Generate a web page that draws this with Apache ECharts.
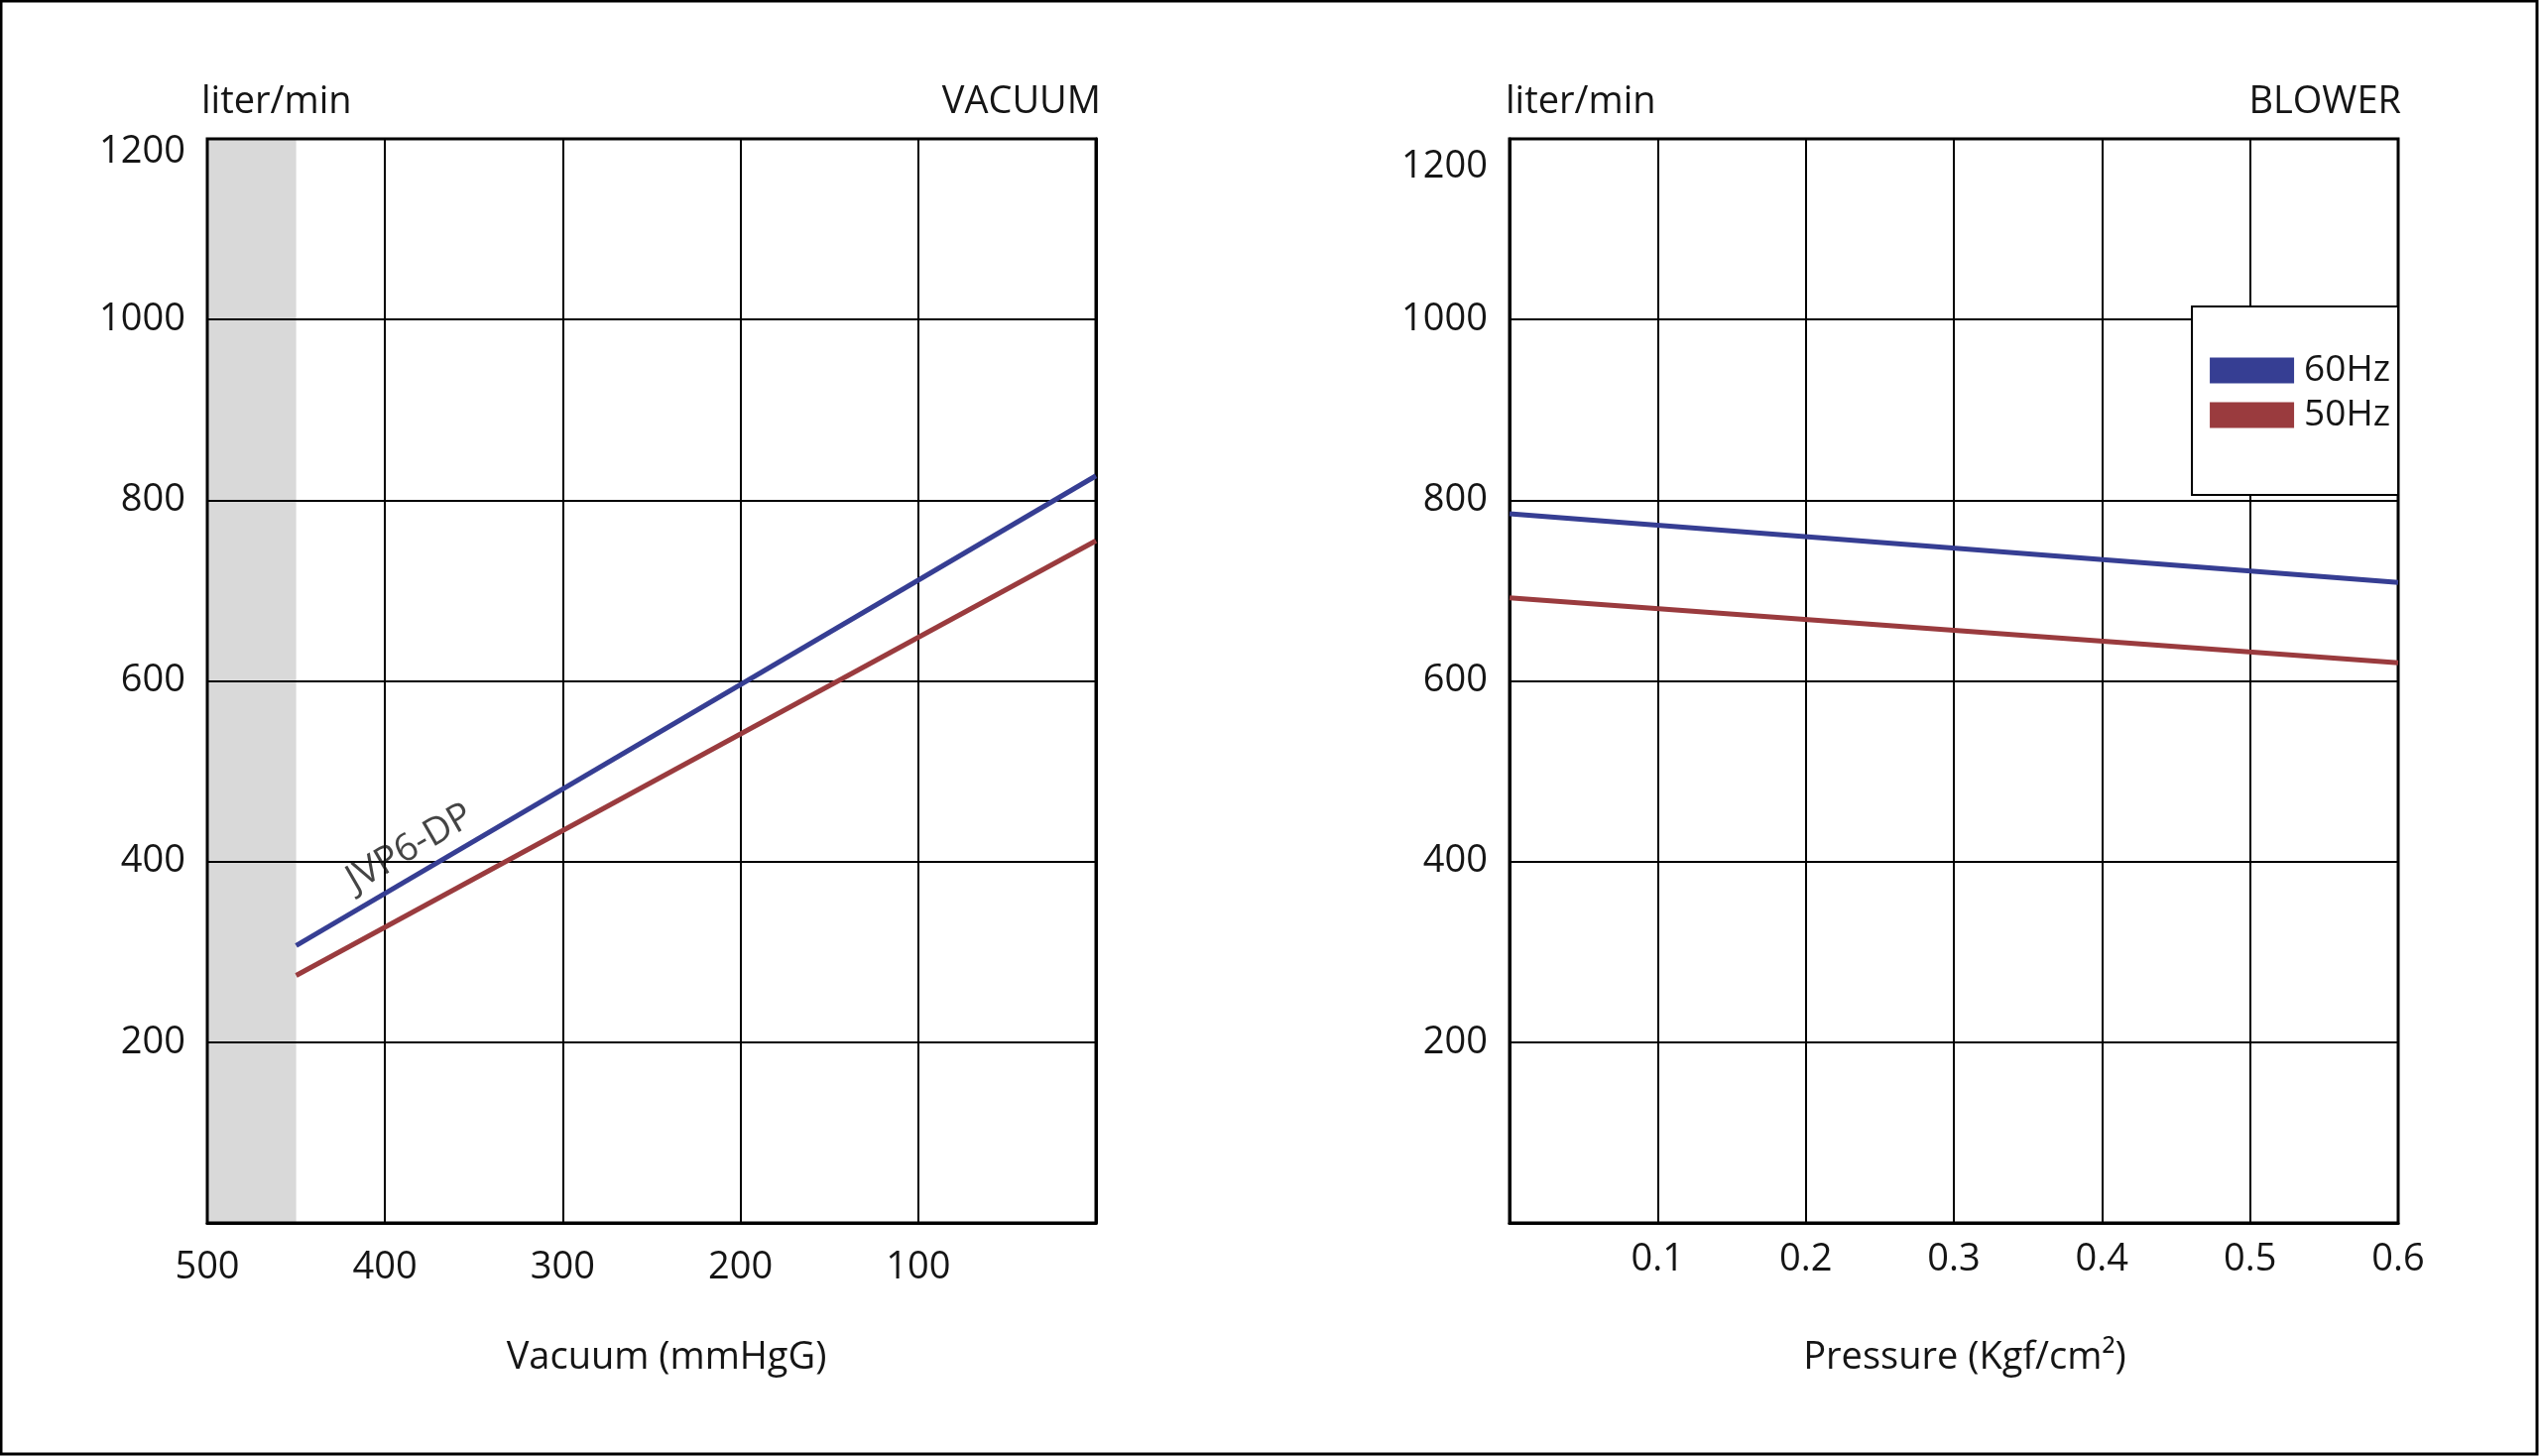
<!DOCTYPE html>
<html>
<head>
<meta charset="utf-8">
<script src="https://cdn.jsdelivr.net/npm/echarts@6/dist/echarts.min.js"></script>
<style>
  html, body { margin: 0; padding: 0; background: #fff; }
  #main { width: 2560px; height: 1468px; }
</style>
</head>
<body>
<div id="main"></div>
<script>
// values
const seriesNames = ["60Hz", "50Hz"];
const vacuum60 = [[450, 307], [0, 827]];
const vacuum50 = [[450, 274], [0, 755]];
const blower60 = [[0, 785], [0.6, 709]];
const blower50 = [[0, 692], [0.6, 620]];
const shadedVacuum = [500, 450];
const modelName = "JVP6-DP";
const modelLabelAt = [386, 415];

const colors = { "60Hz": "#363e93", "50Hz": "#9a3b3e" };
const font = "Open Sans";
const ink = "#151515";

const chart = echarts.init(document.getElementById("main"));

const labelStyle = { color: ink, fontFamily: font, fontSize: 38 };

// the top tick label sits a little lower than its line in the original
const yAxisFor = (idx, topDrop) => ({
  gridIndex: idx,
  type: "value",
  min: 0,
  max: 1200,
  interval: 200,
  z: 2,
  axisLine: { show: true, lineStyle: { color: "#000", width: 3 } },
  axisTick: { show: false },
  splitLine: { lineStyle: { color: "#000", width: 2 } },
  axisLabel: Object.assign({}, labelStyle, {
    margin: 22,
    formatter: (v) => (v === 0 ? "" : v === 1200 ? "{top|1200}" : String(v)),
    rich: {
      top: Object.assign({}, labelStyle, { padding: [topDrop, 0, 0, 0] }),
    },
  }),
});

const lineSeries = (name, data, idx) => ({
  name: name,
  type: "line",
  xAxisIndex: idx,
  yAxisIndex: idx,
  data: data,
  symbol: "none",
  color: colors[name],
  lineStyle: { width: 5 },
  z: 4,
});

chart.setOption({
  backgroundColor: "#fff",
  animation: false,
  title: [
    { text: "liter/min", left: 198, top: 79, textStyle: Object.assign({ fontWeight: "normal" }, labelStyle) },
    { text: "VACUUM", right: 1445, top: 79, textStyle: Object.assign({ fontWeight: "normal" }, labelStyle) },
    { text: "liter/min", left: 1513, top: 79, textStyle: Object.assign({ fontWeight: "normal" }, labelStyle) },
    { text: "BLOWER", right: 134, top: 79, textStyle: Object.assign({ fontWeight: "normal" }, labelStyle) },
  ],
  legend: {
    data: seriesNames,
    orient: "vertical",
    right: 142,
    top: 309,
    padding: [46, 8, 62, 18],
    itemWidth: 85,
    itemHeight: 26,
    itemGap: 8,
    icon: "rect",
    borderColor: "#000",
    borderWidth: 2,
    backgroundColor: "#fff",
    z: 5,
    textStyle: Object.assign({}, labelStyle, { fontSize: 37, padding: [0, 0, 0, 5] }),
  },
  grid: [
    { left: 209, right: 1455, top: 140, bottom: 235, show: true, borderColor: "#000", borderWidth: 3, z: 3 },
    { left: 1522, right: 142, top: 140, bottom: 235, show: true, borderColor: "#000", borderWidth: 3, z: 3 },
  ],
  xAxis: [
    {
      gridIndex: 0,
      type: "value",
      min: 0,
      max: 500,
      interval: 100,
      inverse: true,
      z: 2,
      name: "Vacuum (mmHgG)",
      nameLocation: "middle",
      nameGap: 117,
      nameTextStyle: Object.assign({}, labelStyle, { padding: [0, 0, 0, 30] }),
      axisLine: { lineStyle: { color: "#000", width: 3 } },
      axisTick: { show: false },
      splitLine: { show: true, lineStyle: { color: "#000", width: 2 } },
      axisLabel: Object.assign({}, labelStyle, {
        margin: 26,
        formatter: (v) => (v === 0 ? "" : String(v)),
      }),
    },
    {
      gridIndex: 1,
      type: "value",
      min: 0,
      max: 0.6,
      interval: 0.1,
      z: 2,
      name: "Pressure (Kgf/cm²)",
      nameLocation: "middle",
      nameGap: 117,
      nameTextStyle: Object.assign({}, labelStyle, { padding: [0, 0, 0, 22] }),
      axisLine: { lineStyle: { color: "#000", width: 3 } },
      axisTick: { show: false },
      splitLine: { show: true, lineStyle: { color: "#000", width: 2 } },
      axisLabel: Object.assign({}, labelStyle, {
        margin: 18,
        formatter: (v) => (v === 0 ? "" : v.toFixed(1)),
      }),
    },
  ],
  yAxis: [yAxisFor(0, 26), yAxisFor(1, 56)],
  series: [
    {
      name: "shade",
      type: "line",
      xAxisIndex: 0,
      yAxisIndex: 0,
      data: [],
      z: 0,
      silent: true,
      markArea: {
        silent: true,
        z: 0,
        itemStyle: { color: "#d9d9d9" },
        data: [[{ xAxis: shadedVacuum[0] }, { xAxis: shadedVacuum[1] }]],
      },
    },
    lineSeries("60Hz", vacuum60, 0),
    lineSeries("50Hz", vacuum50, 0),
    lineSeries("60Hz", blower60, 1),
    lineSeries("50Hz", blower50, 1),
    {
      name: "model",
      type: "scatter",
      xAxisIndex: 0,
      yAxisIndex: 0,
      symbolSize: 0,
      silent: true,
      z: 5,
      data: [modelLabelAt],
      label: Object.assign({}, labelStyle, {
        show: true,
        position: "inside",
        rotate: 30,
        textBorderWidth: 0,
        formatter: modelName,
      }),
    },
  ],
  graphic: [
    {
      type: "rect",
      shape: { x: 1, y: 1, width: 2557, height: 1465 },
      style: { fill: null, stroke: "#000", lineWidth: 3 },
      silent: true,
    },
  ],
});
</script>
</body>
</html>
